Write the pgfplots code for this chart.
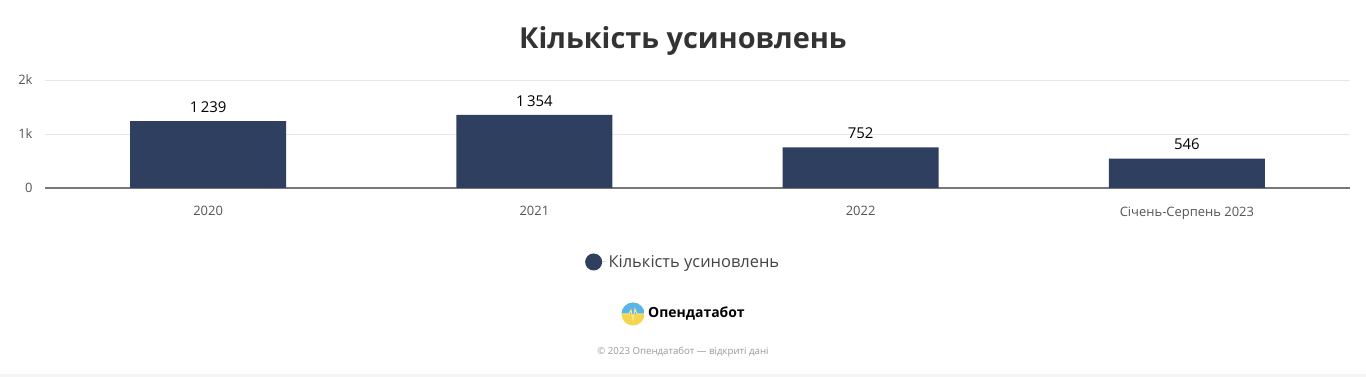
\documentclass[border=0pt]{standalone}
\usepackage{pgfplots}
\pgfplotsset{compat=1.18}
\usepackage{fontspec}
\setmainfont{Open Sans}
\definecolor{barc}{HTML}{2F3F5F}
\definecolor{titlec}{HTML}{333333}
\definecolor{tickc}{HTML}{555555}
\definecolor{gridc}{HTML}{E6E6E6}
\definecolor{axisc}{HTML}{777777}
\definecolor{footc}{HTML}{999999}
\definecolor{logob}{HTML}{5AB4E8}
\definecolor{logoy}{HTML}{F3D54E}
\begin{document}
\begin{tikzpicture}
\useasboundingbox (0bp,0bp) rectangle (1366bp,377bp);
\fill[white] (0bp,0bp) rectangle (1366bp,377bp);
\fill[black!4] (0bp,0bp) rectangle (1366bp,3bp);
\node[font=\bfseries\fontsize{29}{34}\selectfont, text=titlec] at (683bp,336bp) {Кількість усиновлень};
\begin{axis}[
  at={(45bp,189bp)}, anchor=south west,
  scale only axis, width=1305bp, height=108bp,
  xmin=-0.5, xmax=3.5, ymin=0, ymax=2000,
  ybar, bar width=156bp,
  xtick={0,1,2,3}, xticklabels={2020,2021,2022,Січень-Серпень 2023},
  ytick={0,1000,2000}, yticklabels={0,1k,2k},
  axis x line*=bottom, axis y line*=left,
  y axis line style={draw=none},
  x axis line style={draw=axisc, line width=1.2bp, -},
  ymajorgrids, grid style={draw=gridc, line width=0.8bp},
  major tick length=0,
  xticklabel style={font=\fontsize{13}{15}\selectfont, text=tickc, yshift=-15bp},
  yticklabel style={font=\fontsize{13}{15}\selectfont, text=tickc, xshift=-9bp},
  /pgf/number format/assume math mode=true,
  nodes near coords,
  nodes near coords style={font=\fontsize{15}{18}\selectfont, text=black, yshift=5bp,
    /pgf/number format/1000 sep={\,}},
  clip=false,
  legend style={at={(0.489,-0.685)}, anchor=center, draw=none, fill=none,
    font=\fontsize{16.5}{20}\selectfont, text=tickc!80!black},
  legend image code/.code={\fill[barc] (0bp,0bp) circle (8.5bp); \path (-8.5bp,0bp) -- (13bp,0bp);},
]
\addplot[fill=barc, draw=none] coordinates {(0,1239) (1,1354) (2,752) (3,546)};
\addlegendentry{Кількість усиновлень}
\end{axis}
% logo
\begin{scope}
\clip (633bp,63bp) circle (11.5bp);
\fill[logoy] (621bp,51bp) rectangle (645bp,75bp);
\fill[logob] (621bp,63bp) rectangle (645bp,75bp);
\draw[logoy!60!white, line width=1bp] (621bp,63bp) -- (629bp,63bp) -- (631bp,67bp) -- (633bp,57bp) -- (635bp,68bp) -- (637bp,63bp) -- (645bp,63bp);
\end{scope}
\node[anchor=west, font=\bfseries\fontsize{14}{17}\selectfont, text=black, inner sep=0] at (648bp,63bp) {Опендатабот};
\node[font=\fontsize{9.7}{12}\selectfont, text=footc] at (683bp,25bp) {© 2023 Опендатабот — відкриті дані};
\end{tikzpicture}
\end{document}
